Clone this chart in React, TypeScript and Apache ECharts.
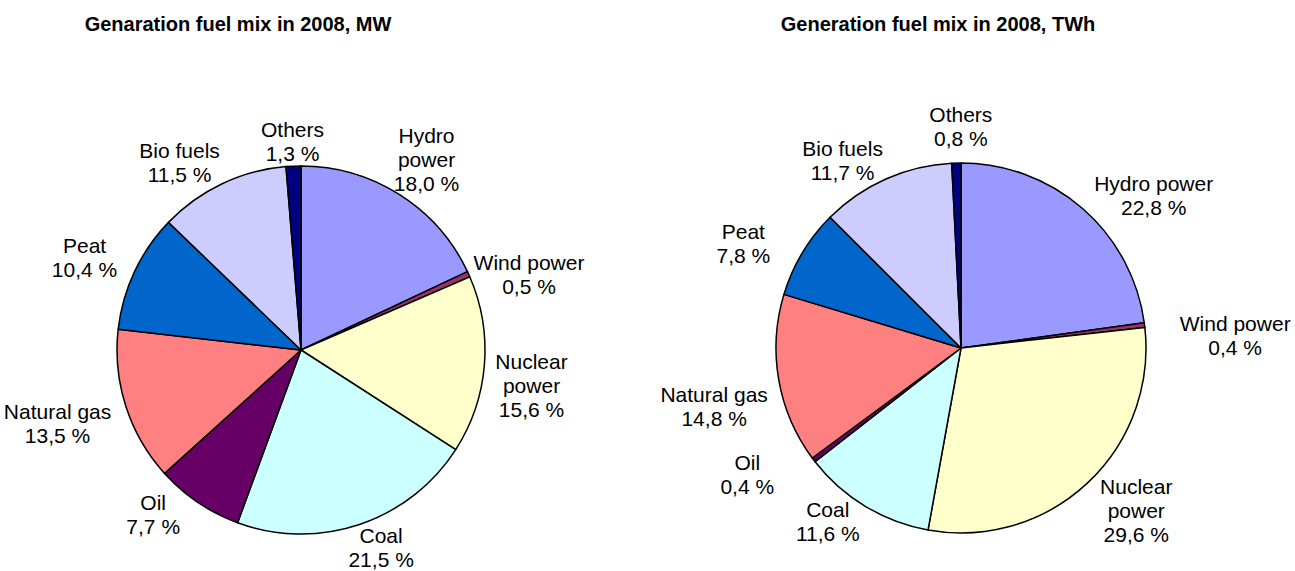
import React, { useEffect, useRef } from "react";
import * as echarts from "echarts";

const categories = ["Hydro power", "Wind power", "Nuclear power", "Coal", "Oil", "Natural gas", "Peat", "Bio fuels", "Others"];
const mwValues = [18.0, 0.5, 15.6, 21.5, 7.7, 13.5, 10.4, 11.5, 1.3];
const twhValues = [22.8, 0.4, 29.6, 11.6, 0.4, 14.8, 7.8, 11.7, 0.8];
const mwLabels = ["Hydro\npower", "Wind power", "Nuclear\npower", "Coal", "Oil", "Natural gas", "Peat", "Bio fuels", "Others"];
const twhLabels = ["Hydro power", "Wind power", "Nuclear\npower", "Coal", "Oil", "Natural gas", "Peat", "Bio fuels", "Others"];
const sliceColors = ["#9999FF", "#993366", "#FFFFCC", "#CCFFFF", "#660066", "#FF8080", "#0066CC", "#CCCCFF", "#000080"];
const titles = ["Genaration fuel mix in 2008, MW", "Generation fuel mix in 2008, TWh"];

// label layout nudges (angle in degrees, extra radial gap in px)
const mwLabelShift = [1, 6, 4, -3.5, 8, 1, -2, -7.6, 0];
const mwLabelGap = [-4, -4, 8, -5, 1, 12, 12, -3, -1];
const twhLabelShift = [10.6, 4.5, -4.1, 6.4, 6.6, -3.6, -5.2, -8.3, 1.4];
const twhLabelGap = [-1, 33, 3, -5, 28, 11, 22, -5, 12];

const FONT = "'Liberation Sans', Arial, sans-serif";

const pies = [
  { values: mwValues, labels: mwLabels, shift: mwLabelShift, gap: mwLabelGap, cx: 301, cy: 350, r: 184 },
  { values: twhValues, labels: twhLabels, shift: twhLabelShift, gap: twhLabelGap, cx: 961, cy: 348, r: 185 },
];

function fmt(v: number) {
  return v.toFixed(1).replace(".", ",") + " %";
}

function midAngle(values: number[], idx: number) {
  const total = values.reduce((a, b) => a + b, 0);
  let cum = 0;
  for (let i = 0; i < idx; i++) cum += values[i];
  return ((cum + values[idx] / 2) / total) * Math.PI * 2;
}

export default function App() {
  const ref = useRef<HTMLDivElement>(null);
  useEffect(() => {
    if (!ref.current) return;
    const chart = echarts.init(ref.current, undefined, { renderer: "svg" });
    const option: any = {
      animation: false,
      backgroundColor: "#ffffff",
      title: [
        { text: titles[0], left: 238, top: 14, textAlign: "center", padding: 0, textStyle: { fontFamily: FONT, fontSize: 20, fontWeight: "bold", color: "#000" } },
        { text: titles[1], left: 938, top: 14, textAlign: "center", padding: 0, textStyle: { fontFamily: FONT, fontSize: 20, fontWeight: "bold", color: "#000" } },
      ],
      series: pies.map((p) => ({
        type: "pie",
        center: [p.cx, p.cy],
        radius: p.r,
        startAngle: 90,
        clockwise: true,
        avoidLabelOverlap: false,
        itemStyle: { borderColor: "#000", borderWidth: 1.5 },
        label: {
          show: true,
          position: "outside",
          fontFamily: FONT,
          fontSize: 21,
          lineHeight: 24,
          color: "#000",
          align: "center",
          formatter: (params: any) => p.labels[params.dataIndex] + "\n" + fmt(p.values[params.dataIndex]),
        },
        labelLine: { show: false },
        labelLayout: (params: any) => {
          const i = params.dataIndex;
          const a = midAngle(p.values, i) + (p.shift[i] * Math.PI) / 180;
          const s = Math.sin(a);
          const c = Math.cos(a);
          const w = params.labelRect.width;
          const h = params.labelRect.height;
          const d = p.r + p.gap[i] + (Math.abs(s) * w) / 2 + (Math.abs(c) * h) / 2;
          return { x: p.cx + d * s, y: p.cy - d * c, align: "center", verticalAlign: "middle" };
        },
        emphasis: { disabled: true },
        data: categories.map((name, i) => ({ name, value: p.values[i], itemStyle: { color: sliceColors[i] } })),
      })),
    };
    chart.setOption(option);
    return () => chart.dispose();
  }, []);
  return <div ref={ref} style={{ position: "absolute", left: 0, top: 0, width: 1295, height: 571 }} />;
}
